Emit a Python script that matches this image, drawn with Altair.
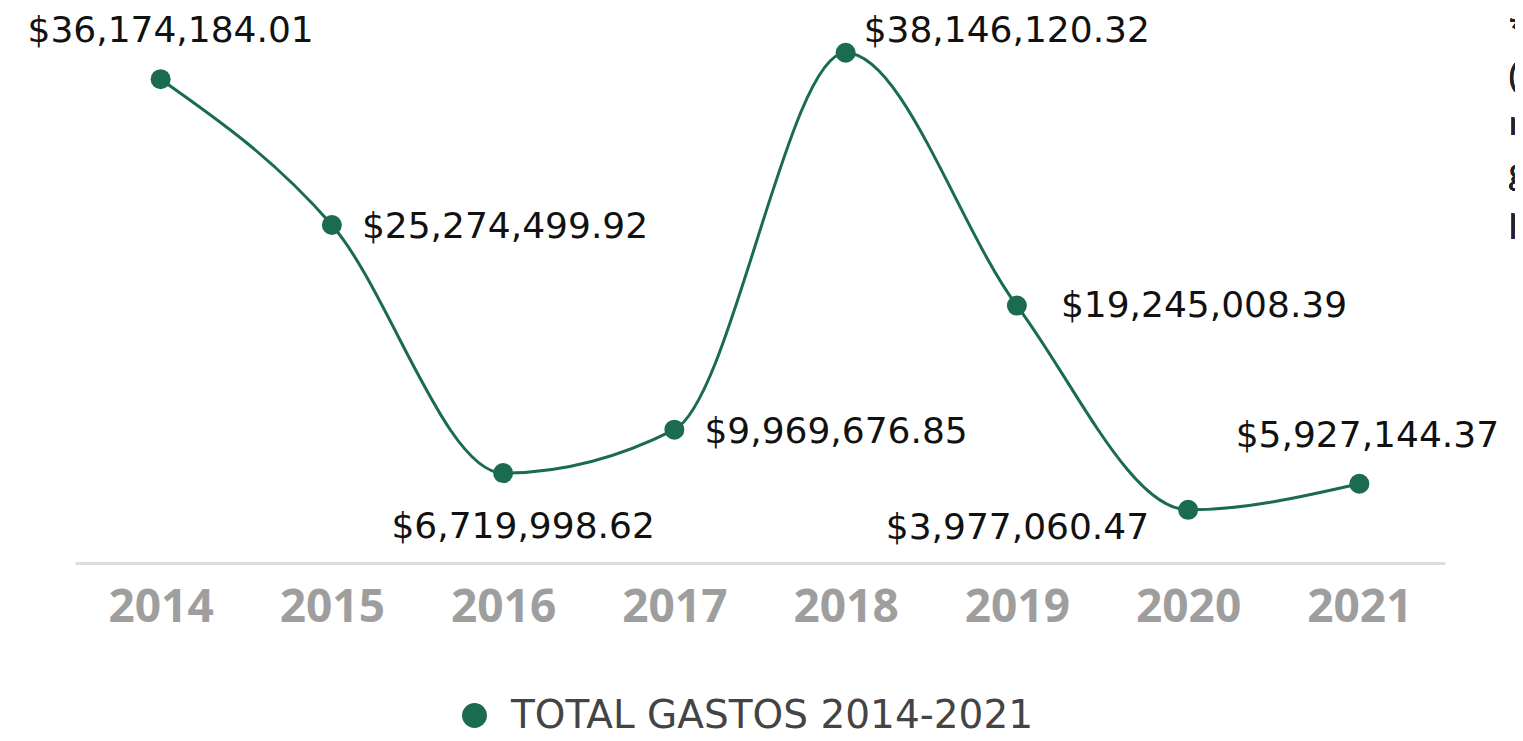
import altair as alt
import pandas as pd

years = ["2014", "2015", "2016", "2017", "2018", "2019", "2020", "2021"]
totals = [36174184.01, 25274499.92, 6719998.62, 9969676.85, 38146120.32,
          19245008.39, 3977060.47, 5927144.37]
series_name = "TOTAL GASTOS 2014-2021"
note_lines = ["*Nota:", "(cifras", "reportadas", "gastos", "públicos)"]

df = pd.DataFrame({"year": years, "total": totals, "serie": [series_name] * len(years)})

GREEN = "#1b6b50"
FONT = "Open Sans"
LFONT = "DejaVu Sans"

x_enc = alt.X("year:O", scale=alt.Scale(paddingOuter=0.5, paddingInner=0),
              axis=alt.Axis(title=None, labelAngle=0, ticks=False, domainColor="#dddddd",
                            domainWidth=3, labelFontSize=46, labelFontWeight="bold",
                            labelColor="#9e9e9e", labelFont=FONT, labelPadding=22, grid=False))
y_enc = alt.Y("total:Q", scale=alt.Scale(domain=[0, 40000000], nice=False), axis=None)

base = alt.Chart(df).encode(x=x_enc, y=y_enc)

line = base.mark_line(interpolate="monotone", color=GREEN, strokeWidth=3)
points = base.mark_point(filled=True, size=400, opacity=1, shape="circle").encode(
    color=alt.Color("serie:N", scale=alt.Scale(domain=[series_name], range=[GREEN]),
                    legend=alt.Legend(title=None, orient="none", legendX=380, legendY=668,
                                      symbolType="circle", symbolSize=620, labelFontSize=39,
                                      labelColor="#444444", labelFont=LFONT, symbolOffset=0,
                                      labelOffset=17, labelLimit=0, labelBaseline="middle"))
)

def label(yrs, **kw):
    params = dict(font=LFONT, fontSize=36, color="#111111")
    params.update(kw)
    return base.mark_text(**params).encode(text=alt.Text("total:Q", format="$,.2f")).transform_filter(
        alt.FieldOneOfPredicate(field="year", oneOf=yrs))

labels = [
    label(["2014"], align="center", baseline="middle", dx=10, dy=-48),
    label(["2021"], align="center", baseline="middle", dx=8, dy=-48),
    label(["2015", "2017"], align="left", baseline="middle", dx=30, dy=2),
    label(["2019"], align="left", baseline="middle", dx=44, dy=0),
    label(["2018"], align="left", baseline="middle", dx=18, dy=-22),
    label(["2016"], align="center", baseline="middle", dx=20, dy=54),
    label(["2020"], align="right", baseline="middle", dx=-39, dy=18),
]

note = alt.Chart(df).mark_text(text=note_lines, align="left", baseline="top", font=FONT,
                               fontSize=32, lineHeight=48, color="#222222").encode(
    x=alt.value(1434), y=alt.value(-14))

chart = alt.layer(line, points, *labels, note).properties(
    width=1370, height=535,
    padding={"left": 67, "top": 20, "right": 70, "bottom": 170},
    autosize=alt.AutoSizeParams(type="none"),
).configure_view(stroke=None).configure_axis(grid=False)

chart.save("out.html", embed_options={"renderer": "svg", "actions": False})
